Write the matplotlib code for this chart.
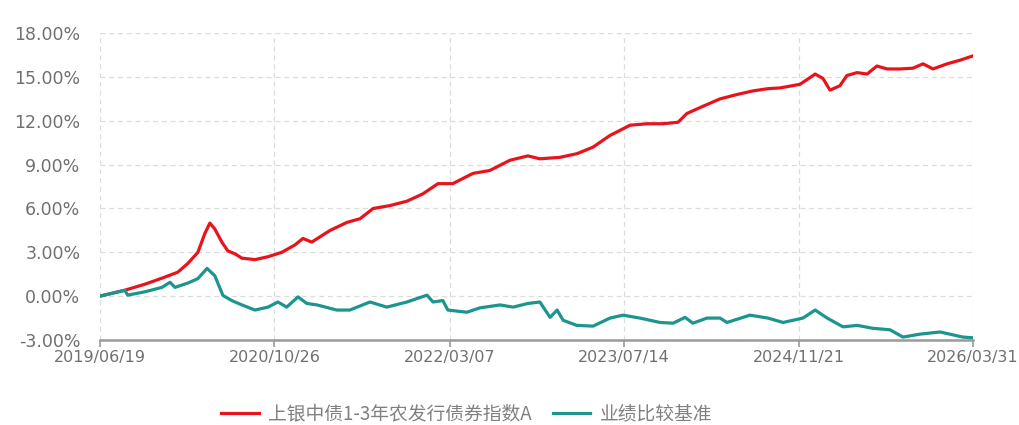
import matplotlib
matplotlib.use("Agg")
import matplotlib.pyplot as plt
import matplotlib.dates as mdates
import pandas as pd
from matplotlib.ticker import FuncFormatter

plt.rcParams['font.family'] = ['DejaVu Sans']

fund_name = "上银中债1-3年农发行债券指数A"
bench_name = "业绩比较基准"

fund_dates = ["2019-06-19", "2019-08-29", "2019-10-25", "2019-12-12", "2020-01-26", "2020-02-24",
              "2020-03-23", "2020-04-12", "2020-04-26", "2020-05-10", "2020-05-30", "2020-06-16",
              "2020-07-06", "2020-07-26", "2020-09-01", "2020-10-08", "2020-11-16", "2020-12-23",
              "2021-01-15", "2021-02-09", "2021-04-02", "2021-05-20", "2021-06-26", "2021-08-02",
              "2021-09-19", "2021-11-06", "2021-12-21", "2022-02-02", "2022-03-16", "2022-05-12",
              "2022-06-29", "2022-08-25", "2022-10-15", "2022-11-18", "2023-01-14", "2023-03-03",
              "2023-04-18", "2023-06-05", "2023-08-01", "2023-09-18", "2023-11-02", "2023-12-15",
              "2024-01-09", "2024-02-24", "2024-04-12", "2024-05-30", "2024-07-15", "2024-08-26",
              "2024-09-29", "2024-11-25", "2025-01-07", "2025-01-29", "2025-02-18", "2025-03-18",
              "2025-04-07", "2025-05-06", "2025-06-03", "2025-07-01", "2025-07-30", "2025-09-05",
              "2025-10-11", "2025-11-09", "2025-12-07", "2026-01-16", "2026-02-22", "2026-03-31"]
fund_values = [0.00, 0.41, 0.82, 1.23, 1.64, 2.25,
               3.00, 4.30, 5.00, 4.60, 3.70, 3.10,
               2.90, 2.60, 2.50, 2.70, 3.00, 3.50,
               3.95, 3.70, 4.50, 5.05, 5.30, 6.00,
               6.20, 6.50, 7.00, 7.70, 7.70, 8.40,
               8.60, 9.30, 9.60, 9.40, 9.50, 9.75,
               10.20, 11.00, 11.70, 11.80, 11.80, 11.90,
               12.50, 13.00, 13.50, 13.80, 14.05, 14.20,
               14.25, 14.50, 15.20, 14.90, 14.10, 14.40,
               15.10, 15.30, 15.20, 15.75, 15.55, 15.55,
               15.60, 15.90, 15.55, 15.90, 16.15, 16.45]

bench_dates = ["2019-06-19", "2019-08-29", "2019-09-06", "2019-10-25", "2019-12-12", "2020-01-04",
               "2020-01-18", "2020-02-24", "2020-03-23", "2020-04-18", "2020-05-10", "2020-06-02",
               "2020-06-27", "2020-07-26", "2020-09-01", "2020-10-08", "2020-11-05", "2020-11-30",
               "2021-01-01", "2021-01-26", "2021-02-24", "2021-04-21", "2021-05-28", "2021-07-24",
               "2021-09-10", "2021-11-06", "2022-01-02", "2022-01-19", "2022-02-16", "2022-03-02",
               "2022-04-25", "2022-06-01", "2022-07-28", "2022-09-03", "2022-10-15", "2022-11-18",
               "2022-12-17", "2023-01-06", "2023-01-23", "2023-03-03", "2023-04-18", "2023-06-05",
               "2023-07-12", "2023-08-29", "2023-10-25", "2023-12-01", "2024-01-04", "2024-01-26",
               "2024-03-06", "2024-04-12", "2024-05-02", "2024-07-06", "2024-08-26", "2024-10-08",
               "2024-12-03", "2025-01-07", "2025-02-10", "2025-03-27", "2025-05-06", "2025-06-20",
               "2025-08-07", "2025-09-13", "2025-10-31", "2025-12-27", "2026-02-02", "2026-03-02",
               "2026-03-31"]
bench_values = [0.00, 0.40, 0.07, 0.30, 0.60, 0.95,
                0.60, 0.90, 1.20, 1.90, 1.40, 0.05,
                -0.30, -0.60, -0.95, -0.75, -0.40, -0.75,
                -0.05, -0.50, -0.60, -0.95, -0.95, -0.40,
                -0.75, -0.40, 0.07, -0.40, -0.30, -0.95,
                -1.10, -0.80, -0.60, -0.75, -0.50, -0.40,
                -1.45, -0.95, -1.65, -2.00, -2.05, -1.50,
                -1.30, -1.50, -1.80, -1.85, -1.45, -1.85,
                -1.50, -1.50, -1.80, -1.30, -1.50, -1.80,
                -1.50, -0.95, -1.50, -2.10, -2.00, -2.20,
                -2.30, -2.80, -2.60, -2.45, -2.65, -2.80,
                -2.85]

tick_labels = ["2019/06/19", "2020/10/26", "2022/03/07", "2023/07/14", "2024/11/21", "2026/03/31"]
y_ticks = [-3, 0, 3, 6, 9, 12, 15, 18]

RED = "#e8141c"
TEAL = "#1c958e"
GRID = "#dcdcdc"
TXT = "#707070"

fig = plt.figure(figsize=(10.19, 4.25), dpi=100)
ax = fig.add_axes([0.098, 0.2, 0.857, 0.722])

fd = pd.to_datetime(fund_dates)
bd = pd.to_datetime(bench_dates)
ticks = pd.to_datetime([t.replace("/", "-") for t in tick_labels])

ax.plot(fd, fund_values, color=RED, lw=2.3, label=fund_name, zorder=3, solid_joinstyle='round')
ax.plot(bd, bench_values, color=TEAL, lw=2.3, label=bench_name, zorder=3, solid_joinstyle='round')

ax.set_xlim(ticks[0], ticks[-1])
ax.set_ylim(-3, 18)
ax.set_xticks(ticks)
ax.set_xticklabels(tick_labels)
ax.set_yticks(y_ticks)
ax.yaxis.set_major_formatter(FuncFormatter(lambda v, p: f"{v:.2f}%"))

ax.grid(True, axis='both', color=GRID, linestyle=(0, (4, 3)), lw=0.9)
for s in ['top', 'right', 'left']:
    ax.spines[s].set_visible(False)
ax.spines['bottom'].set_color('#9a9a9a')
ax.spines['bottom'].set_linewidth(1.8)

ax.tick_params(axis='y', length=0, labelsize=12.5, labelcolor=TXT, pad=14)
ax.tick_params(axis='x', length=5, width=1.2, color='#9a9a9a', labelsize=11.5,
               labelcolor=TXT, pad=2)

leg = fig.legend(loc='center', bbox_to_anchor=(0.458, 0.026), ncol=2, frameon=False,
                 prop={'family': ['Noto Sans CJK SC', 'DejaVu Sans'], 'size': 13.5},
                 handlelength=2.0, handletextpad=0.5, columnspacing=1.1)
for t in leg.get_texts():
    t.set_color('#808080')

fig.savefig("out.png", dpi=100)
